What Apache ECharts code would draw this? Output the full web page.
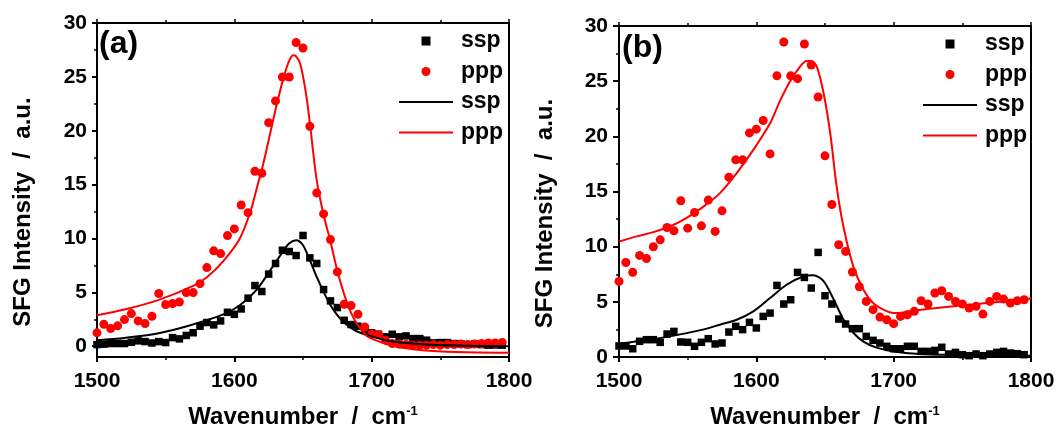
<!DOCTYPE html>
<html>
<head>
<meta charset="utf-8">
<script src="https://cdn.jsdelivr.net/npm/echarts@6/dist/echarts.min.js"></script>
<style>
html,body{margin:0;padding:0;background:#fff;}
#chart{width:1059px;height:426px;}
</style>
</head>
<body>
<div id="chart"></div>
<script>
// ---- data ----
const wavenumber = [1500,1505,1510,1515,1520,1525,1530,1535,1540,1545,1550,1555,1560,1565,1570,1575,1580,1585,1590,1595,
  1600,1605,1610,1615,1620,1625,1630,1635,1640,1645,1650,1655,1660,1665,1670,1675,1680,1685,1690,1695,
  1700,1705,1710,1715,1720,1725,1730,1735,1740,1745,1750,1755,1760,1765,1770,1775,1780,1785,1790,1795];

const aSsp = [0.15,0.19,0.25,0.25,0.25,0.37,0.5,0.43,0.3,0.43,
  0.34,0.8,0.68,1.0,1.25,1.86,2.2,1.98,2.35,3.15,
  2.96,3.46,4.46,5.63,5.08,6.69,7.68,8.91,8.79,8.42,
  10.28,8.2,7.68,5.26,4.21,3.59,2.41,2.01,1.86,1.49,
  1.24,1.11,0.87,1.11,0.87,0.96,0.71,0.71,0.56,0.31,
  0.34,0.34,0.25,0.2,0.15,0.2,0.15,0.1,0.12,0.1];
const aPpp = [1.24,2.04,1.64,1.89,2.47,3.03,2.35,2.10,2.78,4.89,
  3.87,3.96,4.11,4.98,4.98,5.81,7.30,8.85,8.60,10.27,
  10.89,13.11,12.40,16.24,16.05,20.75,22.77,24.99,24.99,28.18,
  27.68,20.41,14.23,12.28,9.90,6.90,3.90,3.77,2.97,1.79,
  1.11,1.08,0.56,0.25,0.2,0.15,0.1,0.1,0.1,0.15,
  0.1,0.15,0.15,0.2,0.15,0.2,0.25,0.3,0.3,0.35];

const bSsp = [1.0,1.0,0.75,1.42,1.57,1.57,1.33,2.08,2.32,1.36,
  1.33,0.97,1.33,1.66,1.18,1.27,2.26,2.78,2.48,3.14,
  2.63,3.68,3.98,6.49,4.8,5.19,7.67,7.21,6.25,9.48,
  5.55,4.8,3.44,2.99,2.57,2.57,1.87,1.51,1.27,0.97,
  0.75,0.75,0.97,0.97,0.51,0.51,0.6,0.88,0.27,0.42,
  0.21,0.12,0.27,0.12,0.27,0.42,0.51,0.36,0.3,0.21];
const bPpp = [6.85,8.57,7.67,9.21,8.93,9.99,10.62,11.74,11.44,14.16,
  11.68,13.1,11.89,14.22,11.38,13.25,16.3,17.87,17.87,20.31,
  20.65,21.43,18.41,25.48,28.55,25.48,25.23,28.37,26.47,23.57,
  18.23,13.82,10.17,9.57,7.7,6.37,5.04,4.29,3.62,3.38,
  3.02,3.68,3.83,4.14,5.1,4.8,5.8,6.0,5.49,5.04,
  4.8,4.44,4.59,3.89,5.04,5.49,5.25,4.89,5.1,5.19];

// fitted curves
const aFitSspX = [1500,1520,1544,1568,1592,1604,1616,1628,1636,1640,1645,1650,1655,1660,1665,1670,1675,1680,1689,1701,1713,1737,1762,1800];
const aFitSspY = [0.56,0.77,1.18,1.95,2.95,3.8,5.2,7.4,8.9,9.55,9.84,9.37,7.98,6.43,5.04,3.8,2.88,2.17,1.39,0.87,0.49,0.19,0.06,0.0];
const aFitPppX = [1500,1520,1545,1570,1580,1592,1604,1612,1616,1621,1626,1631,1636,1640,1643,1645,1648,1652,1655,1660,1665,1670,1675,1680,1685,1690,1696,1706,1718,1737,1762,1800];
const aFitPppY = [2.88,3.4,4.3,5.6,6.4,7.9,10.0,12.6,14.5,16.9,19.7,22.5,25.0,26.5,27.0,26.9,26.2,23.6,20.7,15.4,12.2,9.7,7.0,4.8,3.1,1.95,1.0,0.4,-0.06,-0.37,-0.53,-0.6];

const bFitSspX = [1500,1513,1537,1561,1573.5,1585.7,1597.8,1610,1622,1634,1641.5,1648.8,1656,1663,1670.6,1678,1687.6,1700,1719,1743,1777,1800];
const bFitSspY = [1.2,1.42,1.87,2.48,2.93,3.38,4.14,5.34,6.55,7.3,7.4,6.9,5.3,3.5,2.2,1.4,0.85,0.5,0.28,0.2,0.15,0.12];
const bFitPppX = [1500,1513,1525,1537,1549,1561,1573.5,1585.7,1597.8,1610,1617,1624.5,1631.8,1636.6,1640,1644,1649,1653.8,1658.5,1663.4,1670.6,1678,1685,1692.5,1700,1707,1714.5,1731.5,1755.6,1779.8,1800];
const bFitPppY = [10.47,10.93,11.32,11.83,12.59,13.58,14.85,16.66,18.77,21.19,23.15,24.96,26.32,26.83,26.83,26.32,23.9,20.28,15.45,11.83,8.21,6.1,4.89,4.29,3.98,4.04,4.2,4.44,4.74,5.04,5.3];

const yMajorA = [0,5,10,15,20,25,30];
const yMinorA = [2.5,7.5,12.5,17.5,22.5,27.5];

// ---- chart ----
const FONT = 'Liberation Sans, Arial, sans-serif';
const pairs = (xs, ys) => xs.map((x, i) => [x, ys[i]]);
const plain = v => String(v);
const chart = echarts.init(document.getElementById('chart'), null, {renderer: 'canvas'});

const axisLine = {show: true, onZero: false, lineStyle: {color: '#000', width: 2}};
const tickLabel = {fontSize: 21, fontWeight: 'bold', color: '#000', fontFamily: FONT, formatter: plain};
const titleStyle = {fontSize: 24, fontWeight: 'bold', color: '#000', fontFamily: FONT};

function xAxes(gi) {
  return [{
    gridIndex: gi, type: 'value', position: 'bottom', min: 1500, max: 1800, interval: 100,
    axisLine: axisLine,
    axisTick: {show: true, inside: false, length: 5, lineStyle: {color: '#000', width: 2}},
    minorTick: {show: true, splitNumber: 2, length: 3, lineStyle: {color: '#000', width: 1.5}},
    axisLabel: Object.assign({margin: 14}, tickLabel),
    splitLine: {show: false},
    name: '{t|Wavenumber  /  cm}{s|-1}', nameLocation: 'middle', nameGap: 48,
    nameTextStyle: {rich: {t: titleStyle, s: {fontSize: 13, fontWeight: 'bold', color: '#000', fontFamily: FONT, verticalAlign: 'top', lineHeight: 24}}}
  }, {
    gridIndex: gi, type: 'value', position: 'top', min: 1500, max: 1800, interval: 100,
    axisLine: axisLine,
    axisTick: {show: true, inside: false, length: 4, lineStyle: {color: '#000', width: 1.5}},
    minorTick: {show: true, splitNumber: 2, length: 3, lineStyle: {color: '#000', width: 1.5}},
    axisLabel: {show: false}, splitLine: {show: false}
  }];
}

const yName = 'SFG Intensity  /  a.u.';
const SQUARE = 'path://M0,0H10V10H0Z';
const DASH = 'path://M0,0H54V2H0Z';
function legendFor(left, top) {
  return {
    left: left, top: top, orient: 'vertical', padding: 0,
    itemWidth: 54, itemHeight: 9, itemGap: 7.5, symbolKeepAspect: true,
    selectedMode: false,
    data: [
      {name: 'ssp', icon: SQUARE, itemStyle: {opacity: 1}},
      {name: 'ppp', icon: 'circle', itemStyle: {opacity: 1}},
      {name: 'ssp ', icon: DASH},
      {name: 'ppp ', icon: DASH}
    ],
    formatter: n => n.trim(),
    textStyle: {fontSize: 23, fontWeight: 'bold', color: '#000', fontFamily: FONT, lineHeight: 23, padding: [0, 0, 0, 3]}
  };
}

const sq = {color: '#000', opacity: 1};
const dot = {color: '#ff0000', opacity: 1};

const option = {
  animation: false,
  backgroundColor: '#fff',
  grid: [
    {left: 97, top: 23, width: 412, height: 334, outerBoundsMode: 'none', containLabel: false},
    {left: 619, top: 26, width: 412, height: 331, outerBoundsMode: 'none', containLabel: false}
  ],
  xAxis: [...xAxes(0), ...xAxes(1)],
  yAxis: [
    { // 0: panel a left
      gridIndex: 0, type: 'value', position: 'left', min: -1, max: 30,
      axisLine: axisLine,
      axisTick: {show: true, length: 5, customValues: yMajorA, lineStyle: {color: '#000', width: 2}},
      axisLabel: Object.assign({margin: 10, customValues: yMajorA}, tickLabel),
      splitLine: {show: false},
      name: yName, nameLocation: 'middle', nameRotate: 90, nameGap: 62,
      nameTextStyle: Object.assign({padding: [0, 44, 0, 0]}, titleStyle)
    },
    { // 1: panel a minor ticks
      gridIndex: 0, type: 'value', position: 'left', min: -1, max: 30,
      axisLine: {show: false},
      axisTick: {show: true, length: 3, customValues: yMinorA, lineStyle: {color: '#000', width: 1.5}},
      axisLabel: {show: false}, splitLine: {show: false}
    },
    { // 2: panel a right frame
      gridIndex: 0, type: 'value', position: 'right', min: -1, max: 30,
      axisLine: axisLine, axisTick: {show: false}, axisLabel: {show: false}, splitLine: {show: false}
    },
    { // 3: panel b left
      gridIndex: 1, type: 'value', position: 'left', min: 0, max: 30, interval: 5,
      axisLine: axisLine,
      axisTick: {show: true, length: 6, lineStyle: {color: '#000', width: 2}},
      minorTick: {show: true, splitNumber: 2, length: 3, lineStyle: {color: '#000', width: 1.5}},
      axisLabel: Object.assign({margin: 11}, tickLabel),
      splitLine: {show: false},
      name: yName, nameLocation: 'middle', nameRotate: 90, nameGap: 62,
      nameTextStyle: Object.assign({padding: [0, 44, 0, 0]}, titleStyle)
    },
    { // 4: panel b right frame
      gridIndex: 1, type: 'value', position: 'right', min: 0, max: 30,
      axisLine: axisLine, axisTick: {show: false}, axisLabel: {show: false}, splitLine: {show: false}
    }
  ],
  legend: [legendFor(399, 29.5), legendFor(923, 32.5)],
  graphic: [
    {type: 'text', left: 99, top: 28, style: {text: '(a)', fontSize: 32, fontWeight: 'bold', fill: '#000', fontFamily: FONT}},
    {type: 'text', left: 622, top: 32, style: {text: '(b)', fontSize: 32, fontWeight: 'bold', fill: '#000', fontFamily: FONT}}
  ],
  series: [
    {name: 'ssp', type: 'scatter', xAxisIndex: 0, yAxisIndex: 0, symbol: 'rect', symbolSize: 7.5, itemStyle: sq, data: pairs(wavenumber, aSsp)},
    {name: 'ppp', type: 'scatter', xAxisIndex: 0, yAxisIndex: 0, symbol: 'circle', symbolSize: 9, itemStyle: dot, data: pairs(wavenumber, aPpp)},
    {name: 'ssp ', type: 'line', xAxisIndex: 0, yAxisIndex: 0, symbol: 'none', smooth: 0.3, lineStyle: {color: '#000', width: 2}, itemStyle: {color: '#000'}, data: pairs(aFitSspX, aFitSspY)},
    {name: 'ppp ', type: 'line', xAxisIndex: 0, yAxisIndex: 0, symbol: 'none', smooth: 0.3, lineStyle: {color: '#ff0000', width: 2}, itemStyle: {color: '#ff0000'}, data: pairs(aFitPppX, aFitPppY)},

    {name: 'ssp', type: 'scatter', xAxisIndex: 2, yAxisIndex: 3, symbol: 'rect', symbolSize: 7.5, itemStyle: sq, data: pairs(wavenumber, bSsp)},
    {name: 'ppp', type: 'scatter', xAxisIndex: 2, yAxisIndex: 3, symbol: 'circle', symbolSize: 9, itemStyle: dot, data: pairs(wavenumber, bPpp)},
    {name: 'ssp ', type: 'line', xAxisIndex: 2, yAxisIndex: 3, symbol: 'none', smooth: 0.3, lineStyle: {color: '#000', width: 2}, itemStyle: {color: '#000'}, data: pairs(bFitSspX, bFitSspY)},
    {name: 'ppp ', type: 'line', xAxisIndex: 2, yAxisIndex: 3, symbol: 'none', smooth: 0.3, lineStyle: {color: '#ff0000', width: 2}, itemStyle: {color: '#ff0000'}, data: pairs(bFitPppX, bFitPppY)}
  ]
};
chart.setOption(option);
</script>
</body>
</html>
